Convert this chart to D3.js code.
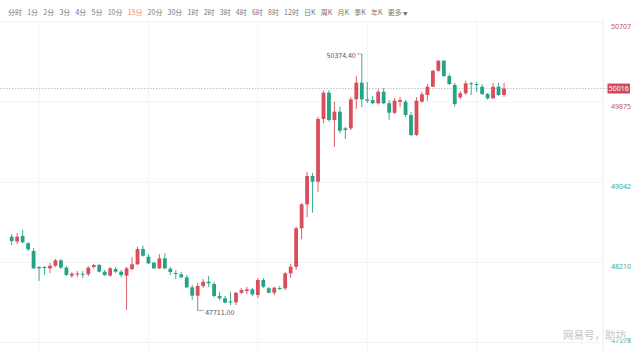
<!DOCTYPE html>
<html>
<head>
<meta charset="utf-8">
<script src="https://cdn.jsdelivr.net/npm/d3@7"></script>
<style>
  body { margin: 0; background: #fff; }
  svg { display: block; font-family: "Noto Sans CJK SC", "Noto Sans", sans-serif; }
</style>
</head>
<body>
<div id="container"></div>
<script>
/**
 * DATA
 * */
const periods = ["分时", "1分", "2分", "3分", "4分", "5分", "10分", "15分", "20分", "30分",
  "1时", "2时", "3时", "4时", "6时", "8时", "12时", "日K", "周K", "月K", "季K", "年K", "更多"];
const activePeriod = "15分";

const priceTicks = [50707, 49875, 49042, 48210, 47378];
const lastPrice = 50016;
const watermark = "网易号，助坊";

// 15 min candles, oldest first
const opens = [48478, 48428, 48485, 48409, 48329, 48163, 48163, 48149, 48176, 48232,
  48156, 48073, 48087, 48093, 48087, 48163, 48184, 48114, 48073, 48142,
  48114, 48073, 48142, 48191, 48350, 48270, 48208, 48149, 48253, 48145,
  48101, 48087, 48056, 47952, 47865, 47966, 48010, 47986, 47862, 47838,
  47805, 47796, 47896, 47914, 47931, 47872, 48028, 47942, 47896, 47945,
  47942, 48097, 48166, 48565, 48814, 49108, 49049, 49700, 49973, 49689,
  49776, 49603, 49603, 49904, 50077, 49904, 49897, 49863, 49983, 49863,
  49765, 49879, 49879, 49741, 49534, 49879, 49949, 50035, 50201, 50305,
  50146, 50053, 49925, 49967, 50070, 50063, 50035, 49959, 49915, 50035,
  49949];
const highs = [48506, 48516, 48547, 48422, 48360, 48173, 48173, 48204, 48246, 48246,
  48173, 48111, 48121, 48121, 48173, 48194, 48194, 48132, 48163, 48163,
  48132, 48166, 48267, 48374, 48384, 48298, 48215, 48295, 48305, 48163,
  48132, 48111, 48080, 47976, 47997, 48038, 48069, 48010, 47906, 47862,
  47906, 47903, 47945, 47958, 47945, 48049, 48049, 47955, 47960, 47966,
  48111, 48194, 48581, 48828, 49152, 49139, 49724, 49994, 50001, 49879,
  49828, 49617, 49928, 50146, 50374.4, 50084, 49939, 50011, 50022, 49897,
  49918, 49928, 49897, 49772, 49928, 49980, 50063, 50209, 50312, 50312,
  50167, 50074, 49990, 50098, 50084, 50084, 50063, 49970, 50074, 50074,
  50077];
const lows = [48391, 48402, 48412, 48329, 48142, 48018, 48080, 48101, 48163, 48142,
  48069, 48049, 48059, 48049, 48069, 48147, 48106, 48069, 48064, 48101,
  48059, 47718, 48132, 48184, 48270, 48194, 48142, 48142, 48139, 48080,
  48038, 48049, 47945, 47820, 47711, 47945, 47955, 47848, 47820, 47786,
  47768, 47768, 47883, 47883, 47862, 47841, 47945, 47890, 47872, 47924,
  47924, 48049, 48132, 48451, 48679, 48727, 48945, 49655, 49672, 49412,
  49551, 49492, 49585, 49804, 49824, 49866, 49855, 49850, 49855, 49689,
  49752, 49824, 49720, 49523, 49523, 49871, 49887, 50032, 50188, 50136,
  50053, 49828, 49907, 49949, 49949, 49980, 49949, 49900, 49907, 49939,
  49931];
const closes = [48433, 48478, 48419, 48347, 48149, 48149, 48152, 48176, 48232, 48156,
  48080, 48093, 48095, 48087, 48156, 48184, 48114, 48080, 48149, 48114,
  48080, 48149, 48191, 48350, 48280, 48201, 48149, 48253, 48149, 48111,
  48090, 48056, 47952, 47865, 47966, 48010, 47994, 47862, 47838, 47792,
  47794, 47896, 47924, 47931, 47879, 48028, 47958, 47896, 47948, 47938,
  48097, 48166, 48565, 48814, 49108, 49049, 49700, 49973, 49689, 49776,
  49578, 49585, 49904, 50077, 49904, 49890, 49863, 49983, 49863, 49765,
  49890, 49897, 49741, 49534, 49890, 49956, 50035, 50201, 50305, 50146,
  50063, 49855, 49967, 50070, 50060, 50053, 49959, 49915, 50035, 49949,
  50016];

/**
 * CONSTANTS
 * */
const width = 640, height = 352;
const plotRight = 603;
const upColor = "#d94d5c", downColor = "#23a486";
const candles = opens.map((o, i) => ({ i, o, h: highs[i], l: lows[i], c: closes[i] }));

const svg = d3.select("#container").append("svg")
  .attr("width", width)
  .attr("height", height);

const x = d3.scaleLinear().domain([0, candles.length - 1]).range([11.7, 504]);
const y = d3.scaleLinear().domain([47378, 50707]).range([342.6, 22]);

// toolbar
let cx = 8;
const bar = svg.append("g").attr("class", "toolbar");
periods.forEach(p => {
  const t = bar.append("text")
    .attr("x", cx)
    .attr("y", 13)
    .attr("dy", "0.35em")
    .style("font-size", "7px")
    .attr("fill", p === activePeriod ? "#ee8a3c" : "#777")
    .text(p);
  if (p === "更多") t.append("tspan").style("font-size", "5px").text(" ▼");
  cx += t.node().getComputedTextLength() + 5.2;
});

// grid
svg.selectAll("line.hgrid")
  .data(priceTicks)
  .join("line")
  .attr("class", "hgrid")
  .attr("x1", 0).attr("x2", plotRight)
  .attr("y1", d => y(d)).attr("y2", d => y(d))
  .attr("stroke", "#f2f2f2");

svg.selectAll("line.vgrid")
  .data(d3.range(5, candles.length, 20))
  .join("line")
  .attr("class", "vgrid")
  .attr("x1", d => x(d)).attr("x2", d => x(d))
  .attr("y1", 20).attr("y2", height)
  .attr("stroke", "#f3f3f3");

svg.append("line")
  .attr("x1", plotRight).attr("x2", plotRight)
  .attr("y1", 20).attr("y2", height)
  .attr("stroke", "#ececec");

// last price line
svg.append("line")
  .attr("x1", 0).attr("x2", 607)
  .attr("y1", y(lastPrice)).attr("y2", y(lastPrice))
  .attr("stroke", "#b5b5b5")
  .attr("stroke-width", 0.8)
  .attr("stroke-dasharray", "1.5,1.5");

// candles
const cg = svg.append("g").attr("class", "candles");
cg.selectAll("line.wick")
  .data(candles)
  .join("line")
  .attr("class", "wick")
  .attr("x1", d => x(d.i)).attr("x2", d => x(d.i))
  .attr("y1", d => y(d.h)).attr("y2", d => y(d.l))
  .attr("stroke", d => d.c >= d.o ? upColor : downColor)
  .attr("stroke-width", 0.9);

cg.selectAll("rect.body")
  .data(candles)
  .join("rect")
  .attr("class", "body")
  .attr("x", d => x(d.i) - 1.9)
  .attr("width", 3.8)
  .attr("y", d => y(Math.max(d.o, d.c)))
  .attr("height", d => Math.max(1, Math.abs(y(d.o) - y(d.c))))
  .attr("fill", d => d.c >= d.o ? upColor : downColor);

// high / low markers
const hi = candles.reduce((a, b) => b.h > a.h ? b : a);
const lo = candles.reduce((a, b) => b.l < a.l ? b : a);

svg.append("line")
  .attr("x1", x(hi.i) - 5).attr("x2", x(hi.i))
  .attr("y1", y(hi.h)).attr("y2", y(hi.h))
  .attr("stroke", "#888").attr("stroke-width", 0.7);
svg.append("text")
  .attr("x", x(hi.i) - 6)
  .attr("y", y(hi.h) + 2)
  .attr("dy", "0.35em")
  .attr("text-anchor", "end")
  .style("font-size", "7px")
  .attr("fill", "#555")
  .text(d3.format(".2f")(hi.h));

svg.append("line")
  .attr("x1", x(lo.i)).attr("x2", x(lo.i) + 6)
  .attr("y1", y(lo.l)).attr("y2", y(lo.l))
  .attr("stroke", "#888").attr("stroke-width", 0.7);
svg.append("text")
  .attr("x", x(lo.i) + 7.5)
  .attr("y", y(lo.l) + 2.5)
  .attr("dy", "0.35em")
  .style("font-size", "7px")
  .attr("fill", "#555")
  .text(d3.format(".2f")(lo.l));

// right axis
const mid = (y.domain()[0] + y.domain()[1]) / 2;
const axis = svg.append("g")
  .attr("transform", `translate(607,0)`)
  .call(d3.axisRight(y).tickValues(priceTicks).tickSize(0).tickPadding(4).tickFormat(d3.format("d")));
axis.select(".domain").remove();
axis.selectAll("text")
  .attr("y", d => Math.min(4, height - 12 - y(d)))
  .style("font-size", "7px")
  .style("font-family", "\"Noto Sans\", sans-serif")
  .attr("fill", d => d > mid ? "#c9505c" : "#3aa88f");

// last price tag
svg.append("rect")
  .attr("x", 607.5).attr("y", y(lastPrice) - 5)
  .attr("width", 22.5).attr("height", 10)
  .attr("fill", "#d04a5a");
svg.append("text")
  .attr("x", 618.7).attr("y", y(lastPrice))
  .attr("dy", "0.35em")
  .attr("text-anchor", "middle")
  .style("font-size", "7px")
  .style("font-family", "\"Noto Sans\", sans-serif")
  .attr("fill", "#fff")
  .text(lastPrice);

// watermark
svg.append("text")
  .attr("x", 626).attr("y", 335)
  .attr("dy", "0.35em")
  .attr("text-anchor", "end")
  .style("font-size", "10.5px")
  .attr("fill", "#c4c4c4")
  .attr("stroke", "#fff")
  .attr("stroke-width", 1.5)
  .attr("paint-order", "stroke")
  .text(watermark);
</script>
</body>
</html>
